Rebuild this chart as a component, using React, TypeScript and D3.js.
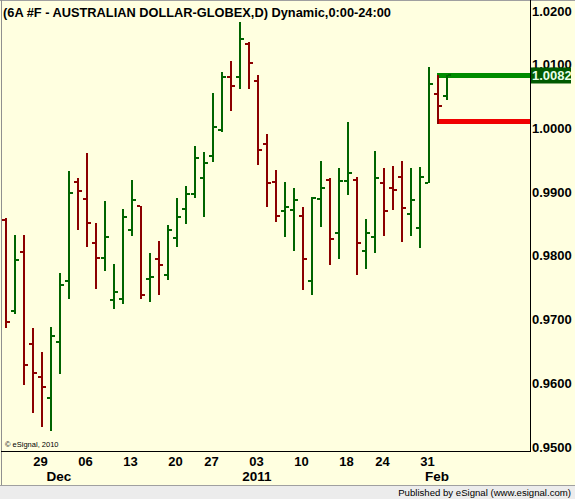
import React from "react";
import * as d3 from "d3";

const dates: string[] = [
  "2010-11-23","2010-11-24","2010-11-25","2010-11-26","2010-11-29","2010-11-30",
  "2010-12-01","2010-12-02","2010-12-03",
  "2010-12-06","2010-12-07","2010-12-08","2010-12-09","2010-12-10",
  "2010-12-13","2010-12-14","2010-12-15","2010-12-16","2010-12-17",
  "2010-12-20","2010-12-21","2010-12-22","2010-12-23",
  "2010-12-27","2010-12-28","2010-12-29","2010-12-30","2010-12-31",
  "2011-01-03","2011-01-04","2011-01-05","2011-01-06","2011-01-07",
  "2011-01-10","2011-01-11","2011-01-12","2011-01-13","2011-01-14",
  "2011-01-18","2011-01-19","2011-01-20","2011-01-21",
  "2011-01-24","2011-01-25","2011-01-26","2011-01-27","2011-01-28",
  "2011-01-31","2011-02-01","2011-02-02",
];

const opens: number[] = [
  0.9856,0.9714,0.9806,0.9663,0.9611,0.9578,0.9666,0.9761,0.9916,0.9889,
  0.9820,0.9797,0.9731,0.9733,0.9841,0.9878,0.9764,0.9795,0.9770,0.9828,
  0.9873,0.9897,0.9922,0.9956,0.9997,1.0079,1.0079,1.0132,1.0073,0.9975,
  0.9916,0.9870,0.9872,0.9863,0.9761,0.9889,0.9919,0.9836,0.9917,0.9919,
  0.9808,0.9830,0.9914,0.9906,0.9923,0.9866,0.9844,0.9914,1.0053,1.0050,
];
const highs: number[] = [
  0.9860,0.9832,0.9832,0.9687,0.9649,0.9689,0.9773,0.9932,0.9921,0.9961,
  0.9851,0.9886,0.9787,0.9873,0.9918,0.9878,0.9804,0.9824,0.9849,0.9891,
  0.9910,0.9971,0.9962,1.0055,1.0087,1.0105,1.0165,1.0135,1.0082,0.9990,
  0.9935,0.9915,0.9906,0.9876,0.9892,0.9948,0.9921,0.9937,1.0009,0.9923,
  0.9857,0.9964,0.9937,0.9940,0.9948,0.9937,0.9939,1.0095,1.0083,1.0083,
];
const lows: number[] = [
  0.9688,0.9709,0.9598,0.9555,0.9533,0.9527,0.9616,0.9733,0.9841,0.9814,
  0.9748,0.9777,0.9717,0.9725,0.9831,0.9733,0.9728,0.9739,0.9763,0.9814,
  0.9850,0.9891,0.9861,0.9947,0.9993,1.0027,1.0061,1.0061,0.9942,0.9877,
  0.9853,0.9830,0.9808,0.9747,0.9739,0.9845,0.9786,0.9795,0.9895,0.9770,
  0.9780,0.9805,0.9831,0.9872,0.9822,0.9831,0.9813,0.9914,1.0006,1.0044,
];
const closes: number[] = [
  0.9696,0.9793,0.9630,0.9617,0.9595,0.9675,0.9755,0.9898,0.9902,0.9852,
  0.9797,0.9830,0.9744,0.9861,0.9888,0.9739,0.9767,0.9786,0.9841,0.9861,
  0.9897,0.9953,0.9945,1.0002,1.0079,1.0066,1.0139,1.0101,0.9966,0.9914,
  0.9862,0.9877,0.9888,0.9795,0.9891,0.9906,0.9827,0.9917,0.9930,0.9820,
  0.9836,0.9922,0.9870,0.9903,0.9875,0.9888,0.9923,1.0069,1.0034,1.0082,
];

const priceTicks: number[] = [0.95, 0.96, 0.97, 0.98, 0.99, 1.0, 1.01, 1.02];
const dayTickDates: string[] = ["2010-11-29","2010-12-06","2010-12-13","2010-12-20","2010-12-27","2011-01-03","2011-01-10","2011-01-18","2011-01-24","2011-01-31"];
const dayTickLabels: string[] = ["29","06","13","20","27","03","10","18","24","31"];
const monthTickDates: string[] = ["2010-12-01","2011-01-03","2011-02-01"];
const monthTickLabels: string[] = ["Dec","2011","Feb"];

const lastPrice = 1.0082;
const stopLevel = 1.0010;

const TITLE = "(6A #F - AUSTRALIAN DOLLAR-GLOBEX,D) Dynamic,0:00-24:00";

export default function App() {
  const W = 575, H = 499;
  const plotRight = 530, plotBottom = 451;
  const x = d3.scalePoint<string>().domain(dates).range([6, 6 + 9 * (dates.length - 1)]);
  const y = d3.scaleLinear().domain([0.9495, 1.02]).range([plotBottom, 0]);
  const bg = "#FFFFE0";
  const up = "#006400";
  const down = "#8B0000";
  const font = "'Liberation Sans', Arial, sans-serif";
  const xLast = x(dates[dates.length - 2])! - 1;

  return (
    <svg width={W} height={H} style={{ position: "absolute", left: 0, top: 0 }} fontFamily={font}>
      <rect x={0} y={0} width={W} height={H} fill={bg} />
      <rect x={0} y={485} width={W} height={H - 485} fill="#ECECEC" />
      <line x1={0} x2={W} y1={485.5} y2={485.5} stroke="#A0A0A0" />
      <line x1={0} x2={W} y1={0.5} y2={0.5} stroke="#A0A0A0" />
      <line x1={1.5} x2={1.5} y1={0} y2={485} stroke="#909090" />

      {/* horizontal level lines */}
      <line x1={xLast} x2={plotRight} y1={y(lastPrice)} y2={y(lastPrice)} stroke="#008C00" strokeWidth={5} />
      <line x1={xLast} x2={plotRight} y1={y(stopLevel)} y2={y(stopLevel)} stroke="#F00000" strokeWidth={5} />

      {/* OHLC bars */}
      {dates.map((d, i) => {
        const cx = x(d)!;
        const col = closes[i] >= opens[i] ? up : down;
        const yh = Math.round(y(highs[i]));
        const yl = Math.round(y(lows[i]));
        const yo = Math.round(y(opens[i]));
        const yc = Math.round(y(closes[i]));
        return (
          <g key={d} fill={col}>
            <rect x={cx - 1} y={yh} width={2} height={Math.max(1, yl - yh)} />
            <rect x={cx - 4} y={yo - 1} width={3} height={2} />
            <rect x={cx + 1} y={yc - 1} width={3} height={2} />
          </g>
        );
      })}

      {/* frame */}
      <line x1={1} x2={plotRight} y1={plotBottom + 0.5} y2={plotBottom + 0.5} stroke="#000" />
      <line x1={plotRight + 0.5} x2={plotRight + 0.5} y1={0} y2={plotBottom + 1} stroke="#000" />

      {/* title */}
      <text x={3} y={17} fontSize={12.8} fontWeight="bold" fill="#000">{TITLE}</text>

      {/* price axis labels */}
      {priceTicks.map((v) => {
        const cy = Math.max(11, y(v));
        return (
          <text key={v} x={532} y={cy + 4.6} fontSize={13} fontWeight="bold" fill="#000">{d3.format(".4f")(v)}</text>
        );
      })}
      <rect x={531} y={y(lastPrice) - 8} width={40} height={16} fill="#005A00" />
      <text x={532} y={y(lastPrice) + 4.6} fontSize={13} fontWeight="bold" fill="#E8FFE8">{d3.format(".4f")(lastPrice)}</text>

      {/* date axis labels */}
      {dayTickDates.map((d, i) => (
        <text key={d} x={x(d)! - 1.5} y={465.5} fontSize={13} fontWeight="bold" textAnchor="middle" fill="#000">{dayTickLabels[i]}</text>
      ))}
      {monthTickDates.map((d, i) => (
        <text key={d} x={x(d)! - 1} y={481} fontSize={13.5} fontWeight="bold" textAnchor="middle" fill="#000">{monthTickLabels[i]}</text>
      ))}

      <text x={5} y={447} fontSize={7.5} fill="#000">© eSignal, 2010</text>
      <text x={571} y={496} fontSize={9.6} textAnchor="end" fill="#000">Published by eSignal (www.esignal.com)</text>
    </svg>
  );
}
